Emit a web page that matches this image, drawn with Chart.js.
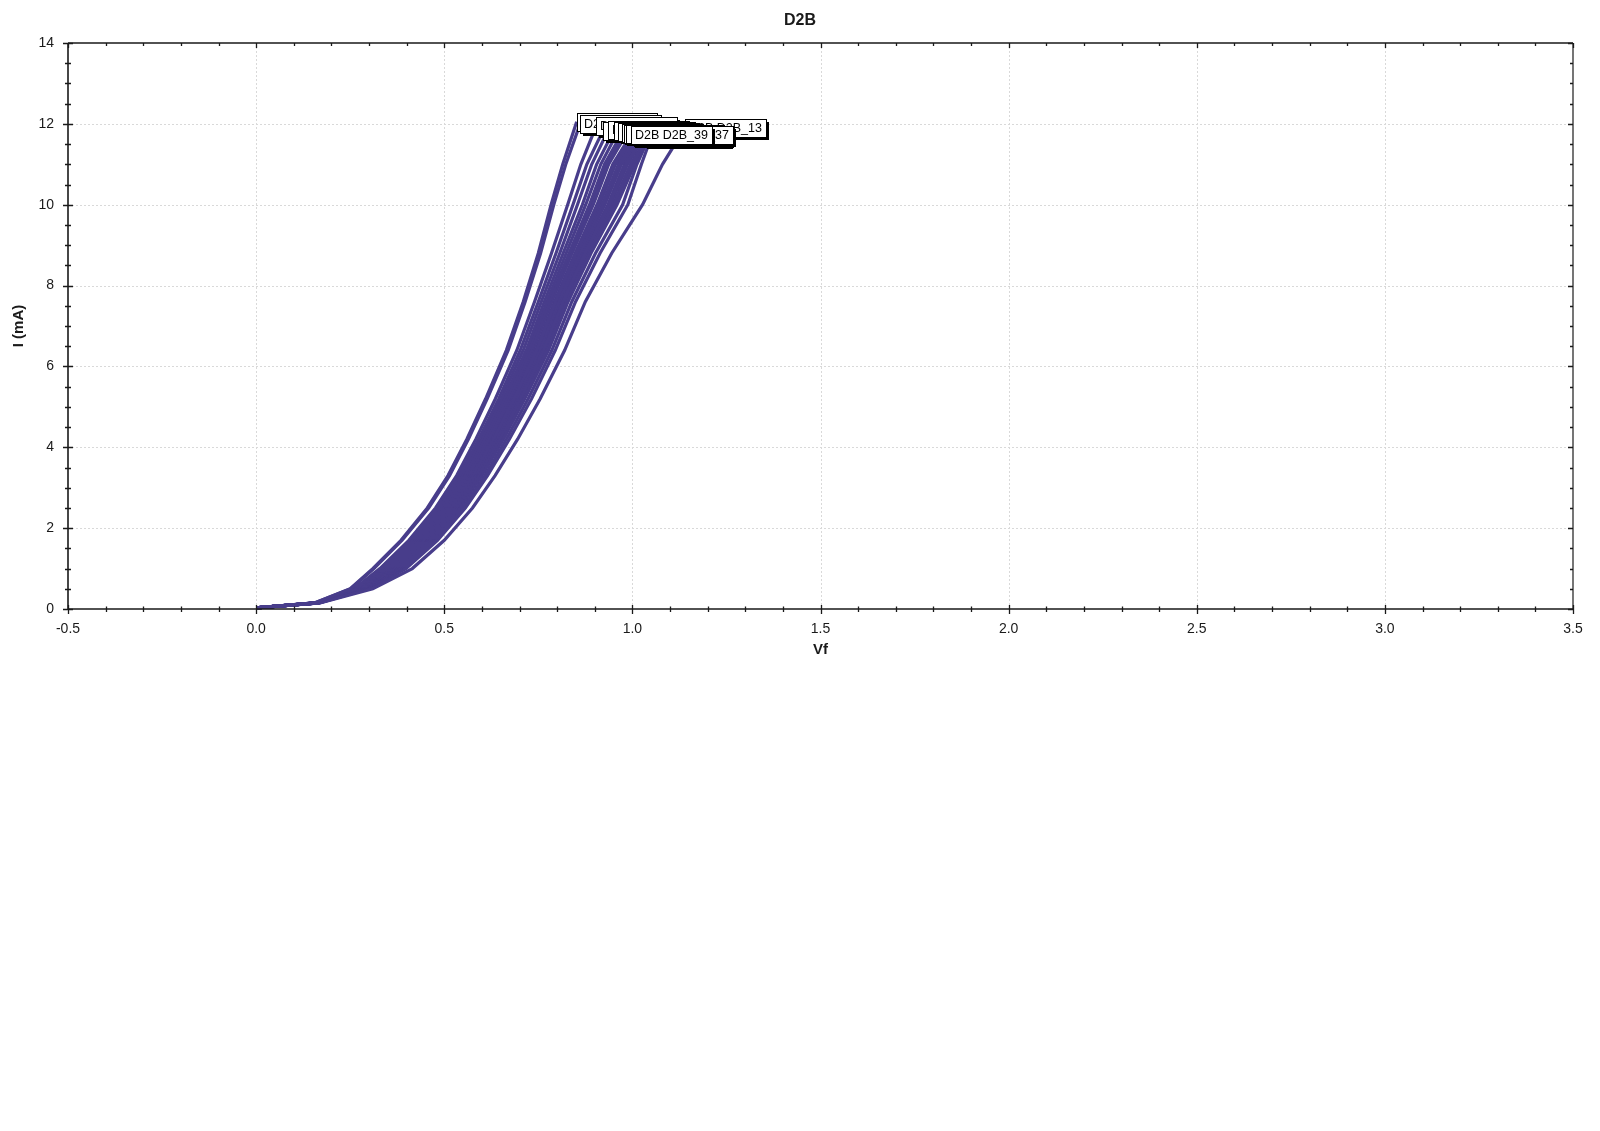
<!DOCTYPE html>
<html>
<head>
<meta charset="utf-8">
<title>D2B</title>
<script src="https://cdn.jsdelivr.net/npm/chart.js@4.4.0/dist/chart.umd.min.js"></script>
<style>
  html, body { margin: 0; padding: 0; background: #fff; }
  #wrap { width: 1600px; height: 1131px; background: #fff; }
</style>
</head>
<body>
<div id="wrap"><canvas id="ivChart" width="1600" height="680"></canvas></div>
<script>
// current steps shared by every sweep (mA), last point of each curve is in endCurrent
const currentSteps = [0.03, 0.15, 0.5, 1, 1.7, 2.5, 3.3, 4.2, 5.2, 6.4, 7.6, 8.8, 10, 11];

const seriesNames = [
  "D2B_11", "D2B_44", "D2B_13", "D2B_22", "D2B_26", "D2B_08", "D2B_02", "D2B_17", "D2B_03",
  "D2B_19", "D2B_29", "D2B_30", "D2B_35", "D2B_14", "D2B_24", "D2B_21", "D2B_36", "D2B_07",
  "D2B_27", "D2B_09", "D2B_18", "D2B_16", "D2B_33", "D2B_37", "D2B_39"
];

// Vf (V) at each current step
const vfSeries = [
  [0, 0.155, 0.250, 0.310, 0.385, 0.455, 0.510, 0.560, 0.610, 0.665, 0.710, 0.750, 0.784, 0.815],
  [0, 0.155, 0.252, 0.313, 0.388, 0.459, 0.514, 0.564, 0.614, 0.670, 0.715, 0.756, 0.791, 0.823],
  [0, 0.170, 0.310, 0.415, 0.500, 0.575, 0.635, 0.695, 0.755, 0.820, 0.875, 0.945, 1.027, 1.080],
  [0, 0.158, 0.261, 0.329, 0.406, 0.477, 0.533, 0.584, 0.636, 0.693, 0.740, 0.785, 0.828, 0.863],
  [0, 0.159, 0.264, 0.335, 0.413, 0.484, 0.540, 0.592, 0.645, 0.702, 0.750, 0.797, 0.842, 0.879],
  [0, 0.159, 0.267, 0.340, 0.418, 0.490, 0.546, 0.599, 0.652, 0.710, 0.758, 0.807, 0.854, 0.892],
  [0, 0.160, 0.270, 0.346, 0.424, 0.496, 0.553, 0.606, 0.659, 0.718, 0.766, 0.816, 0.867, 0.905],
  [0, 0.161, 0.273, 0.350, 0.429, 0.501, 0.558, 0.611, 0.665, 0.724, 0.773, 0.824, 0.876, 0.916],
  [0, 0.161, 0.275, 0.354, 0.433, 0.505, 0.563, 0.617, 0.671, 0.730, 0.779, 0.832, 0.886, 0.926],
  [0, 0.162, 0.276, 0.356, 0.436, 0.508, 0.565, 0.619, 0.674, 0.733, 0.783, 0.836, 0.891, 0.932],
  [0, 0.162, 0.278, 0.358, 0.438, 0.510, 0.568, 0.622, 0.677, 0.736, 0.786, 0.840, 0.896, 0.937],
  [0, 0.163, 0.281, 0.364, 0.444, 0.517, 0.574, 0.630, 0.685, 0.745, 0.795, 0.850, 0.909, 0.951],
  [0, 0.163, 0.282, 0.366, 0.446, 0.519, 0.576, 0.632, 0.687, 0.747, 0.797, 0.853, 0.913, 0.955],
  [0, 0.163, 0.284, 0.369, 0.449, 0.522, 0.580, 0.636, 0.691, 0.752, 0.802, 0.859, 0.920, 0.963],
  [0, 0.164, 0.285, 0.370, 0.451, 0.524, 0.582, 0.638, 0.693, 0.754, 0.805, 0.862, 0.924, 0.967],
  [0, 0.164, 0.285, 0.372, 0.453, 0.526, 0.584, 0.640, 0.696, 0.756, 0.807, 0.865, 0.927, 0.971],
  [0, 0.165, 0.288, 0.377, 0.458, 0.531, 0.589, 0.646, 0.702, 0.763, 0.815, 0.874, 0.938, 0.983],
  [0, 0.165, 0.289, 0.378, 0.460, 0.533, 0.591, 0.648, 0.704, 0.766, 0.817, 0.877, 0.942, 0.987],
  [0, 0.165, 0.291, 0.381, 0.463, 0.537, 0.595, 0.652, 0.709, 0.770, 0.822, 0.883, 0.949, 0.995],
  [0, 0.166, 0.292, 0.384, 0.466, 0.539, 0.598, 0.655, 0.712, 0.774, 0.826, 0.887, 0.954, 1.001],
  [0, 0.166, 0.293, 0.386, 0.468, 0.541, 0.600, 0.657, 0.714, 0.777, 0.829, 0.890, 0.959, 1.006],
  [0, 0.167, 0.297, 0.392, 0.475, 0.549, 0.608, 0.665, 0.723, 0.786, 0.839, 0.902, 0.974, 1.012],
  [0, 0.164, 0.287, 0.375, 0.456, 0.529, 0.588, 0.644, 0.700, 0.761, 0.812, 0.871, 0.935, 0.979],
  [0, 0.168, 0.300, 0.398, 0.482, 0.556, 0.615, 0.673, 0.732, 0.795, 0.849, 0.914, 0.988, 1.024],
  [0, 0.163, 0.280, 0.363, 0.443, 0.515, 0.573, 0.628, 0.683, 0.743, 0.793, 0.848, 0.906, 0.948]
];

const endVf = [0.852, 0.861, 1.140, 0.904, 0.921, 0.936, 0.950, 0.961, 0.973,
               0.979, 0.984, 1.000, 1.005, 1.013, 1.018, 1.022, 1.030, 1.034,
               1.040, 1.042, 1.044, 1.046, 1.028, 1.052, 0.996];
const endCurrent = [12.05, 12.0, 11.9, 11.95, 11.82, 11.85, 11.82, 11.8, 11.78,
                    11.74, 11.75, 11.7, 11.72, 11.75, 11.7, 11.7, 11.68, 11.7,
                    11.68, 11.68, 11.68, 11.7, 11.74, 11.72, 11.72];

const xTickLabels = ["-0.5", "0.0", "0.5", "1.0", "1.5", "2.0", "2.5", "3.0", "3.5"];
const chartTitle = "D2B";

const lineColor = "#483D8B";
const fontFamily = '"Liberation Sans", Arial, Helvetica, sans-serif';

const datasets = seriesNames.map((name, k) => {
  const pts = currentSteps.map((c, i) => ({ x: vfSeries[k][i], y: c }));
  pts.push({ x: endVf[k], y: endCurrent[k] });
  return {
    label: "D2B " + name,
    data: pts,
    showLine: true,
    borderColor: lineColor,
    backgroundColor: lineColor,
    borderWidth: 3.2,
    pointRadius: 0,
    tension: 0,
    clip: false
  };
});

// dotted grid, frame, tick marks (major + minor) and the page title
const framePlugin = {
  id: "frame",
  beforeDatasetsDraw(chart) {
    const { ctx, chartArea: a, scales: { x, y } } = chart;
    ctx.save();
    ctx.strokeStyle = "#d9d9d9";
    ctx.lineWidth = 1;
    ctx.setLineDash([2, 2]);
    for (let k = 0; k <= 6; k++) {
      const px = Math.round(x.getPixelForValue(k * 0.5)) + 0.5;
      ctx.beginPath(); ctx.moveTo(px, a.top); ctx.lineTo(px, a.bottom); ctx.stroke();
    }
    for (let k = 1; k <= 6; k++) {
      const py = Math.round(y.getPixelForValue(k * 2)) + 0.5;
      ctx.beginPath(); ctx.moveTo(a.left, py); ctx.lineTo(a.right, py); ctx.stroke();
    }
    ctx.restore();
  },
  afterDraw(chart) {
    const { ctx, chartArea: a, scales: { x, y } } = chart;
    ctx.save();
    ctx.strokeStyle = "#1a1a1a";
    ctx.lineWidth = 1.6;
    ctx.beginPath();
    ctx.moveTo(a.left, a.top); ctx.lineTo(a.right, a.top);
    ctx.moveTo(a.left, a.bottom); ctx.lineTo(a.right, a.bottom);
    ctx.moveTo(a.left, a.top); ctx.lineTo(a.left, a.bottom);
    ctx.stroke();
    ctx.lineWidth = 1.2;
    ctx.beginPath();
    ctx.moveTo(a.right, a.top); ctx.lineTo(a.right, a.bottom);
    ctx.stroke();

    ctx.lineWidth = 1.3;
    ctx.beginPath();
    for (let k = -5; k <= 35; k++) {
      const major = k % 5 === 0;
      const px = Math.round(x.getPixelForValue(k / 10)) + 0.5;
      ctx.moveTo(px, a.bottom - (major ? 4 : 2.5)); ctx.lineTo(px, a.bottom + (major ? 5 : 3));
      ctx.moveTo(px, a.top); ctx.lineTo(px, a.top + (major ? 5 : 3));
    }
    for (let k = 0; k <= 28; k++) {
      const major = k % 4 === 0;
      const py = Math.round(y.getPixelForValue(k / 2)) + 0.5;
      ctx.moveTo(a.left - (major ? 5 : 3), py); ctx.lineTo(a.left + (major ? 5 : 3), py);
      ctx.moveTo(a.right, py); ctx.lineTo(a.right - (major ? 5 : 3), py);
    }
    ctx.stroke();

    // title centred on the page
    ctx.fillStyle = "#1a1a1a";
    ctx.font = "bold 16px " + fontFamily;
    ctx.textAlign = "center";
    ctx.textBaseline = "middle";
    ctx.fillText(chartTitle, chart.width / 2, 20.5);
    ctx.restore();
  }
};

// boxed labels at the end of every curve
const endLabelPlugin = {
  id: "endLabels",
  afterDatasetsDraw(chart) {
    const ctx = chart.ctx;
    ctx.save();
    ctx.font = "12.5px " + fontFamily;
    ctx.textBaseline = "middle";
    chart.data.datasets.forEach((ds, i) => {
      const meta = chart.getDatasetMeta(i);
      const pt = meta.data[meta.data.length - 1];
      const h = 18;
      const w = Math.round(ctx.measureText(ds.label).width + 8);
      const bx = Math.round(pt.x);
      const by = Math.round(pt.y - h / 2);
      ctx.fillStyle = "#000";
      ctx.fillRect(bx + 3, by + 3, w, h);
      ctx.fillStyle = "#fff";
      ctx.fillRect(bx, by, w, h);
      ctx.strokeStyle = "#000";
      ctx.lineWidth = 1;
      ctx.strokeRect(bx + 0.5, by + 0.5, w, h);
      ctx.fillStyle = "#000";
      ctx.fillText(ds.label, bx + 4, by + h / 2 + 1);
    });
    ctx.restore();
  }
};

const ctx = document.getElementById("ivChart").getContext("2d");
new Chart(ctx, {
  type: "scatter",
  data: { datasets },
  plugins: [framePlugin, endLabelPlugin],
  options: {
    responsive: false,
    animation: false,
    devicePixelRatio: 1,
    layout: { padding: { left: 0, right: 27, top: 43, bottom: 11 } },
    plugins: {
      legend: { display: false },
      tooltip: { enabled: false },
      title: { display: false }
    },
    scales: {
      x: {
        type: "linear",
        min: -0.5,
        max: 3.5,
        grid: { display: false, drawTicks: false },
        border: { display: false },
        ticks: {
          stepSize: 0.5,
          padding: 12,
          color: "#1a1a1a",
          font: { family: fontFamily, size: 14 },
          callback: (v) => xTickLabels[Math.round((v + 0.5) / 0.5)]
        },
        title: {
          display: true,
          text: "Vf",
          color: "#1a1a1a",
          font: { family: fontFamily, size: 15, weight: "bold" },
          padding: { top: 0, bottom: 10 }
        },
        afterFit: (s) => { s.height = 60; }
      },
      y: {
        type: "linear",
        min: 0,
        max: 14,
        grid: { display: false, drawTicks: false },
        border: { display: false },
        ticks: {
          stepSize: 2,
          padding: 14,
          color: "#1a1a1a",
          font: { family: fontFamily, size: 14 }
        },
        title: {
          display: true,
          text: "I (mA)",
          color: "#1a1a1a",
          font: { family: fontFamily, size: 15, weight: "bold" },
          padding: { top: 10, bottom: 0 }
        },
        afterFit: (s) => { s.width = 68; }
      }
    }
  }
});
</script>
</body>
</html>
